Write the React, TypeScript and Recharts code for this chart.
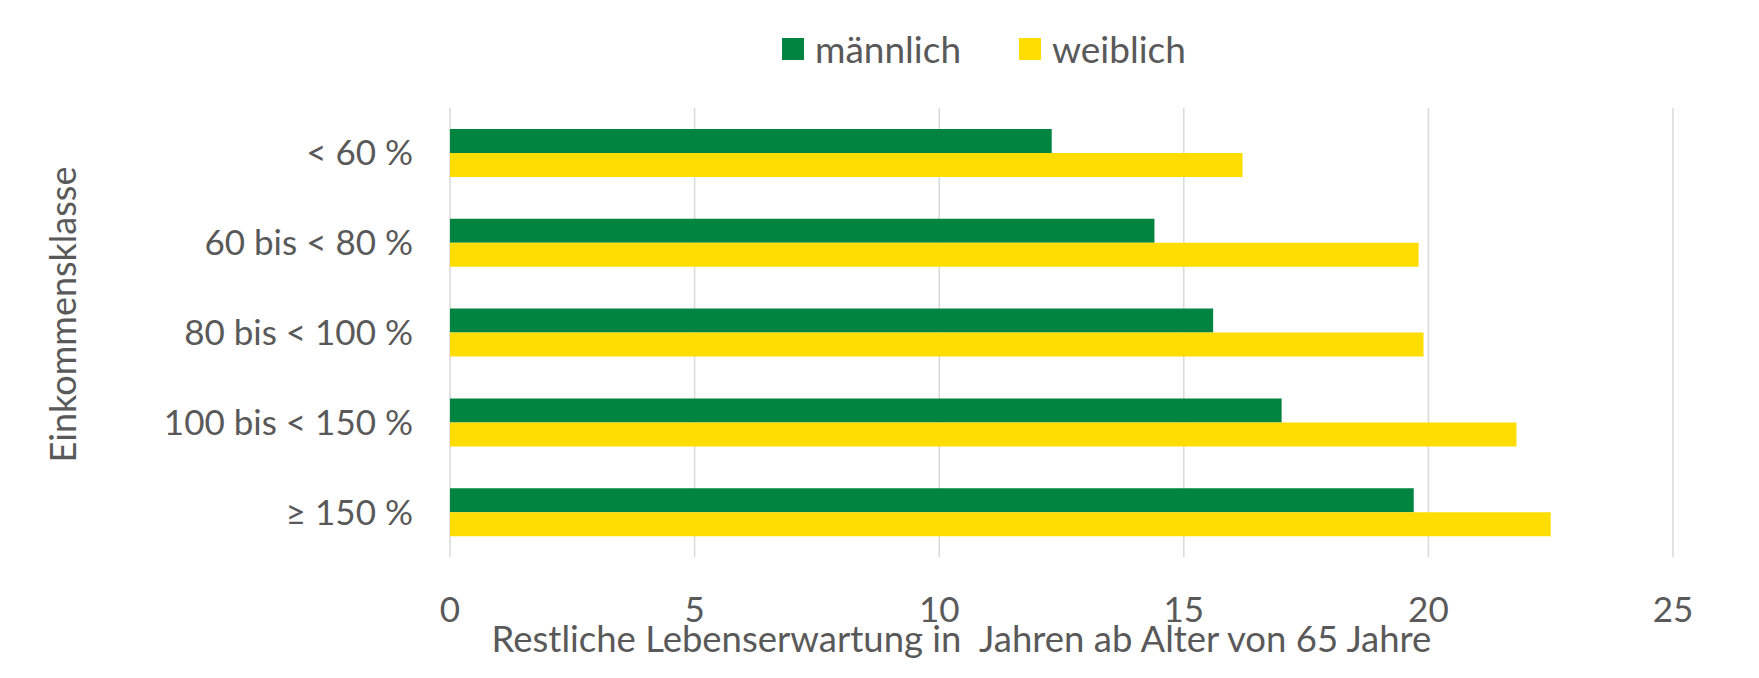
import React from 'react';
import { BarChart, Bar, XAxis, YAxis, CartesianGrid, Legend } from 'recharts';

const categories = ['< 60 %', '60 bis < 80 %', '80 bis < 100 %', '100 bis < 150 %', '≥ 150 %'];
const maleValues = [12.3, 14.4, 15.6, 17.0, 19.7];
const femaleValues = [16.2, 19.8, 19.9, 21.8, 22.5];
const xTicks = [0, 5, 10, 15, 20, 25];
const seriesNames = ['männlich', 'weiblich'];
const xAxisTitle = 'Restliche Lebenserwartung in  Jahren ab Alter von 65 Jahre';
const yAxisTitle = 'Einkommensklasse';

const data = categories.map((c, i) => ({ category: c, male: maleValues[i], female: femaleValues[i] }));

const FONT = 'Lato, "Open Sans", sans-serif';
const TEXT = '#595959';
const GREEN = '#00843F';
const YELLOW = '#FFDD00';
const GRID = '#D9D9D9';

const LegendContent = (props: any) => {
  const payload = props.payload || [];
  return (
    <div style={{ display: 'flex', alignItems: 'center', fontFamily: FONT, fontSize: 37, color: TEXT }}>
      {payload.map((p: any, i: number) => (
        <div key={i} style={{ display: 'flex', alignItems: 'center', width: i === 0 ? 237 : 'auto' }}>
          <div style={{ width: 22, height: 22, background: p.color, marginRight: 11 }} />
          <span style={{ lineHeight: '40px' }}>{p.value}</span>
        </div>
      ))}
    </div>
  );
};

const YTitle = (props: any) => {
  const vb = props.viewBox || { x: 0, y: 0, height: 0 };
  const cx = 62;
  const cy = vb.y + vb.height / 2 - 18;
  return (
    <text x={cx} y={cy} transform={`rotate(-90, ${cx}, ${cy})`} textAnchor="middle" dominantBaseline="central"
      fontFamily={FONT} fontSize={36} fill={TEXT}>
      {yAxisTitle}
    </text>
  );
};

const XTitle = (props: any) => {
  const vb = props.viewBox || { x: 0, y: 0, width: 0 };
  const cx = vb.x + vb.width / 2 - 100;
  return (
    <text x={cx} y={652} textAnchor="middle" fontFamily={FONT} fontSize={36.5} fill={TEXT} style={{ whiteSpace: 'pre' }}>
      {xAxisTitle}
    </text>
  );
};

export default function App() {
  return (
    <div style={{ position: 'absolute', left: 0, top: 0, width: 1759, height: 678, background: '#fff' }}>
      <BarChart
        width={1759}
        height={678}
        data={data}
        layout="vertical"
        margin={{ top: 108, right: 86, bottom: 0, left: 0 }}
        barGap={0}
      >
        <CartesianGrid horizontal={false} vertical={true} stroke={GRID} strokeWidth={1.5} />
        <XAxis
          type="number"
          domain={[0, 25]}
          ticks={xTicks}
          axisLine={false}
          tickLine={false}
          tickSize={0}
          tickMargin={40}
          height={121}
          tick={{ fontFamily: FONT, fontSize: 35, fill: TEXT }}
          interval={0}
          label={<XTitle />}
        />
        <YAxis
          type="category"
          dataKey="category"
          width={450}
          axisLine={false}
          tickLine={false}
          tickSize={0}
          tickMargin={37}
          tick={{ fontFamily: FONT, fontSize: 35, fill: TEXT }}
          interval={0}
          label={<YTitle />}
        />
        <Legend
          layout="horizontal"
          verticalAlign="middle"
          align="center"
          wrapperStyle={{ top: 29, left: 782, width: 'auto' }}
          content={<LegendContent />}
        />
        <Bar dataKey="male" name={seriesNames[0]} fill={GREEN} barSize={24} isAnimationActive={false} />
        <Bar dataKey="female" name={seriesNames[1]} fill={YELLOW} barSize={24} isAnimationActive={false} />
      </BarChart>
    </div>
  );
}
